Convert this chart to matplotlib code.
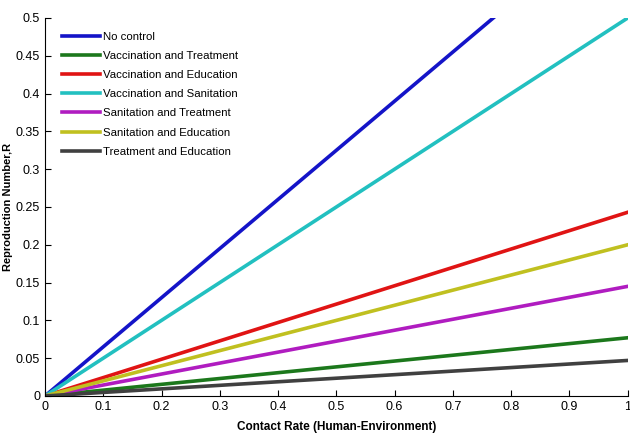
import matplotlib
matplotlib.use("Agg")
import matplotlib.pyplot as plt
import numpy as np

# R at contact rate = 1 for each control strategy (lines go through origin)
labels = ["No control", "Vaccination and Treatment", "Vaccination and Education",
          "Vaccination and Sanitation", "Sanitation and Treatment",
          "Sanitation and Education", "Treatment and Education"]
r_at_one = [0.65, 0.077, 0.243, 0.5, 0.145, 0.2, 0.047]
colors = ["#1414c8", "#1c781c", "#e01414", "#22c0c0", "#b01cc0", "#c0c020", "#404040"]

contact = np.array([0.0, 1.0])

plt.rcParams["font.family"] = ["Liberation Sans", "DejaVu Sans"]

fig = plt.figure(figsize=(6.3, 4.34), dpi=100)
ax = fig.add_axes([0.0714, 0.0876, 0.925, 0.871])

for lab, r, c in zip(labels, r_at_one, colors):
    ax.plot(contact, r * contact, color=c, lw=2.6, label=lab)

ax.set_xlim(0, 1)
ax.set_ylim(0, 0.5)
ax.set_xticks(np.arange(0, 1.01, 0.1))
ax.set_xticklabels(["0", "0.1", "0.2", "0.3", "0.4", "0.5", "0.6", "0.7", "0.8", "0.9", "1"])
ax.set_yticks(np.arange(0, 0.501, 0.05))
ax.set_yticklabels(["0", "0.05", "0.1", "0.15", "0.2", "0.25", "0.3", "0.35", "0.4", "0.45", "0.5"])
ax.tick_params(direction="in", length=4, labelsize=9, width=0.8)
for s in ["top", "right"]:
    ax.spines[s].set_visible(False)

ax.set_xlabel("Contact Rate (Human-Environment)", fontsize=8.5, fontweight="bold")
ax.xaxis.set_label_coords(0.5, -0.066)
ax.set_ylabel("Reproduction Number,R", fontsize=8, fontweight="bold")
ax.yaxis.set_label_coords(-0.055, 0.5)

ax.legend(loc="upper left", frameon=False, fontsize=8.2, handlelength=3.3,
          handletextpad=0.3, labelspacing=0.8, borderaxespad=0.0,
          bbox_to_anchor=(0.022, 0.975))

fig.savefig("out.png", dpi=100)
